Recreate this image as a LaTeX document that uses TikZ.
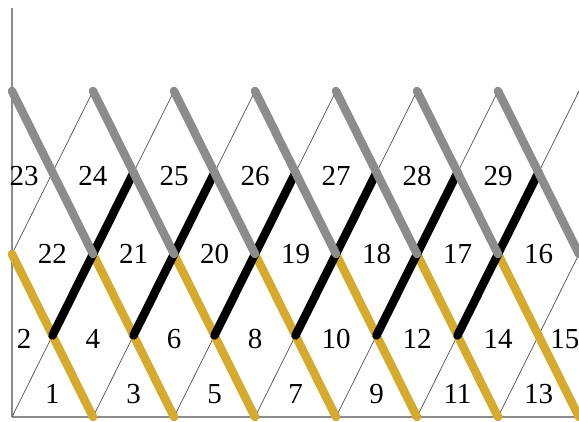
\documentclass[tikz,border=0pt]{standalone}
\usepackage{fontspec}
\setmainfont{Liberation Serif}
\definecolor{latgray}{RGB}{140,140,140}
\definecolor{latgold}{RGB}{214,170,44}
\tikzset{
  thinln/.style={draw=black!70, line width=0.7pt},
  edgeln/.style={draw=black!45, line width=1.6pt},
  rod/.style={line width=8.5pt, line cap=round},
  grayrod/.style={rod, draw=latgray},
  goldrod/.style={rod, draw=latgold},
  blackrod/.style={rod, draw=black},
  cell/.style={font=\fontsize{29}{32}\selectfont, inner sep=0pt},
}

\begin{document}
\begin{tikzpicture}[x=40.5pt, y=81.5pt]
  \useasboundingbox (-0.2963,-0.0491) rectangle (14,5.1166);
  \clip (-0.2963,-0.0491) rectangle (14,5.1166);
  % frame
  \draw[edgeln] (0,0) -- (0,5.02);
  \draw[edgeln] (0,0) -- (14,0);
  % thin rising lines
  \begin{scope}
    \clip (0,0) rectangle (14,4.2);
    \foreach \k in {-1,...,6} \draw[thinln] (2*\k,0) -- ++(4,4);
  \end{scope}
  % rods
  \foreach \k in {-1,...,5} \draw[goldrod] (2*\k+2,2) -- ++(2,-2);
  \foreach \k in {0,...,5} \draw[blackrod] (2*\k+1,1) -- ++(2,2);
  \foreach \k in {0,...,6} \draw[grayrod] (2*\k,4) -- ++(2,-2);
  % cell numbers
  \foreach \n [count=\i from 0] in {1,3,5,7,9,11,13}
    \node[cell] (n\n) at (2*\i+1,0.28) {\n};
  \node[cell] (n2) at (0.3,0.96) {2};
  \foreach \n [count=\i from 1] in {4,6,8,10,12,14}
    \node[cell] (n\n) at (2*\i,0.96) {\n};
  \node[cell] (n15) at (13.65,0.96) {15};
  \foreach \n [count=\i from 0] in {22,21,20,19,18,17,16}
    \node[cell] (n\n) at (2*\i+1,2) {\n};
  \node[cell] (n23) at (0.3,2.96) {23};
  \foreach \n [count=\i from 1] in {24,25,26,27,28,29}
    \node[cell] (n\n) at (2*\i,2.96) {\n};
\end{tikzpicture}
\end{document}
